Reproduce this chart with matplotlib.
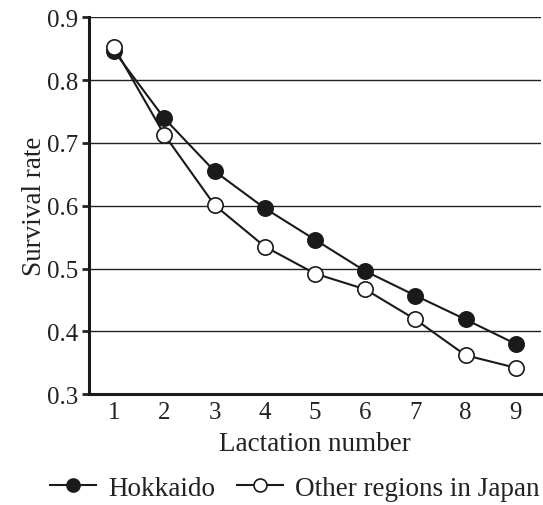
import matplotlib
matplotlib.use("Agg")
import matplotlib.pyplot as plt

lactation = [1, 2, 3, 4, 5, 6, 7, 8, 9]
hokkaido = [0.846, 0.739, 0.655, 0.596, 0.546, 0.496, 0.457, 0.419, 0.380]
other_regions = [0.852, 0.713, 0.601, 0.535, 0.492, 0.467, 0.419, 0.362, 0.342]
yticks = [0.3, 0.4, 0.5, 0.6, 0.7, 0.8, 0.9]

plt.rcParams['font.family'] = ['Liberation Serif', 'DejaVu Serif']

fig = plt.figure(figsize=(5.43, 5.06), dpi=100)
ax = fig.add_axes([0.164, 0.219, 0.832, 0.745])

for y in yticks[1:]:
    ax.axhline(y, color='#222222', lw=1.0, zorder=1)

ax.plot(lactation, hokkaido, color='#1a1a1a', lw=1.5, marker='o', ms=11,
        mfc='#1a1a1a', mec='#1a1a1a', mew=1.2, label='Hokkaido', zorder=3)
ax.plot(lactation, other_regions, color='#1a1a1a', lw=1.5, marker='o', ms=11,
        mfc='white', mec='#1a1a1a', mew=1.2, label='Other regions in Japan', zorder=4)

ax.set_xlim(0.5, 9.5)
ax.set_ylim(0.3, 0.9)
ax.set_xticks(lactation)
ax.set_yticks(yticks)
ax.set_yticklabels([f"{v:.1f}" for v in yticks])
ax.tick_params(axis='x', length=0, labelsize=18, pad=5, colors='#222222')
ax.tick_params(axis='y', length=5, width=2, direction='out', labelsize=18, pad=3,
               colors='#222222')

for s in ['top', 'right']:
    ax.spines[s].set_visible(False)
for s in ['left', 'bottom']:
    ax.spines[s].set_linewidth(2.2)
    ax.spines[s].set_color('#1a1a1a')

ax.set_xlabel('Lactation number', fontsize=19.5, color='#222222', labelpad=6)
ax.set_ylabel('Survival rate', fontsize=19.5, color='#222222', labelpad=0)

handles, labels = ax.get_legend_handles_labels()
fig.legend(handles, labels, loc='center', bbox_to_anchor=(0.543, 0.033), ncol=2,
           frameon=False, fontsize=19.5, handlelength=1.7, columnspacing=0.8,
           handletextpad=0.45, labelcolor='#222222', markerscale=0.85)

fig.savefig('out.png', dpi=100)
